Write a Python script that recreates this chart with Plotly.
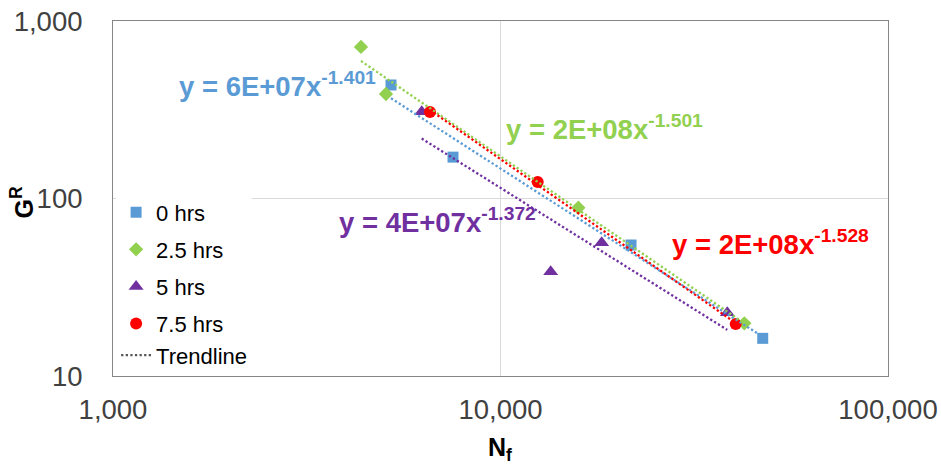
import numpy as np
import plotly.graph_objects as go

# ---- data ----
series_names = ["0 hrs", "2.5 hrs", "5 hrs", "7.5 hrs"]
nf_0 = [5218, 7541, 21720, 47500]
gr_0 = [436, 171, 54.7, 16.3]
nf_25 = [4365, 5064, 15880, 42580]
gr_25 = [714, 388, 88.7, 19.8]
nf_5 = [6261, 13475, 18240, 38480]
gr_5 = [308, 38.7, 56.4, 22.7]
nf_75 = [6577, 12474, 40450]
gr_75 = [307, 124, 19.6]
equations = ["y = 6E+07x<sup>-1.401</sup>", "y = 2E+08x<sup>-1.501</sup>",
             "y = 4E+07x<sup>-1.372</sup>", "y = 2E+08x<sup>-1.528</sup>"]
x_ticks = [1000, 10000, 100000]
y_ticks = [10, 100, 1000]

colors = ["#5B9BD5", "#92D050", "#7030A0", "#FF0000"]
symbols = ["square", "diamond", "triangle-up", "circle"]
sizes = [11, 11, 13, 12]
FONT = "Liberation Sans, Arial, sans-serif"

xs = [nf_0, nf_25, nf_5, nf_75]
ys = [gr_0, gr_25, gr_5, gr_75]

fig = go.Figure()
for i, (name, x, y) in enumerate(zip(series_names, xs, ys)):
    fig.add_trace(go.Scatter(
        x=x, y=y, mode="markers", name=name,
        legendgroup="g%d" % i,
        marker=dict(symbol=symbols[i], size=sizes[i], color=colors[i]),
    ))

# power-law trendlines (least squares in log-log space, spanning each series)
for i, (x, y) in enumerate(zip(xs, ys)):
    lx, ly = np.log10(x), np.log10(y)
    b, a = np.polyfit(lx, ly, 1)
    xe = np.array([min(x), max(x)], dtype=float)
    ye = 10 ** (a + b * np.log10(xe))
    fig.add_trace(go.Scatter(
        x=xe, y=ye, mode="lines", showlegend=False, hoverinfo="skip",
        line=dict(color=colors[i], width=2.3, dash="2.3px,2.3px"),
    ))

# legend entry for trendlines
fig.add_trace(go.Scatter(
    x=[None], y=[None], mode="lines", name="Trendline", legendgroup="g3",
    line=dict(color="#595959", width=2.3, dash="2.3px,2.3px"),
))

# equation labels
eq_pos = [(0.0826, 0.822), (0.505, 0.70), (0.289, 0.437), (0.719, 0.376)]
for txt, (px, py), c in zip(equations, eq_pos, colors):
    fig.add_annotation(text="<b>%s</b>" % txt, x=px, y=py, xref="paper", yref="paper",
                       xanchor="left", yanchor="middle", showarrow=False,
                       font=dict(family=FONT, size=27.5, color=c))

# axis titles
fig.add_annotation(text="<b>G<sup>R</sup></b>", x=-0.117, y=0.49, xref="paper", yref="paper",
                   textangle=-90, showarrow=False, xanchor="center", yanchor="middle",
                   font=dict(family=FONT, size=25, color="#000000"))
fig.add_annotation(text="<b>N<sub>f</sub></b>", x=0.499, y=-0.205, xref="paper", yref="paper",
                   showarrow=False, xanchor="center", yanchor="middle",
                   font=dict(family=FONT, size=25, color="#000000"))

axis_common = dict(
    type="log", showgrid=True, gridcolor="#D9D9D9", gridwidth=1,
    showline=True, mirror=True, linecolor="#868686", linewidth=1,
    ticks="", zeroline=False, tickformat=",.0f", automargin=False,
    tickfont=dict(family=FONT, size=27.5, color="#404040"),
)
fig.update_xaxes(range=[3, 5], tickvals=x_ticks, ticklabelstandoff=9, **axis_common)
fig.update_yaxes(range=[1, 3], tickvals=y_ticks, ticklabelstandoff=24, **axis_common)

fig.update_layout(
    width=941, height=464,
    margin=dict(l=113, r=53, t=21, b=88, autoexpand=False),
    plot_bgcolor="white", paper_bgcolor="white",
    font=dict(family=FONT),
    showlegend=True,
    legend=dict(x=0.004, y=0.52, xanchor="left", yanchor="top",
                bgcolor="white", borderwidth=0, tracegroupgap=5.5,
                traceorder="grouped",
                font=dict(family=FONT, size=22, color="#000000")),
)

fig.write_html("out.html", config={"displayModeBar": False},
               post_script="document.body.style.margin='0px';document.body.style.overflow='hidden';")
